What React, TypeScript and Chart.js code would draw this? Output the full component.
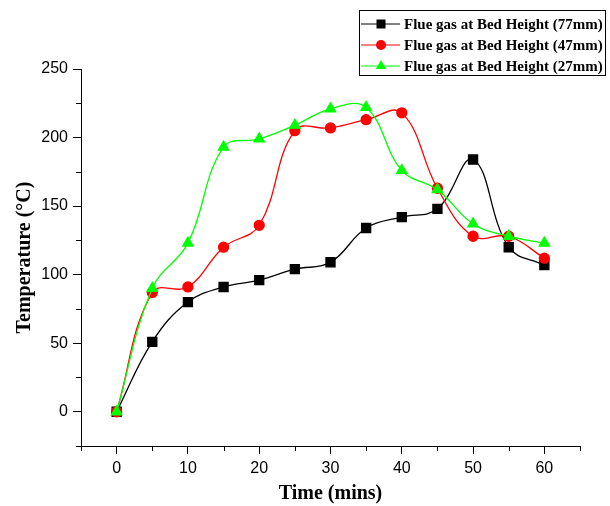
import React, { useEffect, useRef } from "react";
import { Chart, registerables } from "chart.js";

Chart.register(...registerables);

const times = [0, 5, 10, 15, 20, 25, 30, 35, 40, 45, 50, 55, 60];
const bed77 = [0, 51, 80, 91, 96, 104, 109, 134, 142, 148, 184, 120, 107];
const bed47 = [0, 87, 91, 120, 136, 205, 207, 213, 218, 163, 128, 128, 112];
const bed27 = [0, 90, 123, 193, 199, 209, 221, 222, 176, 162, 137, 128, 123];
const seriesLabels = [
  "Flue gas at Bed Height (77mm)",
  "Flue gas at Bed Height (47mm)",
  "Flue gas at Bed Height (27mm)",
];
const xTitle = "Time (mins)";
const yTitle = "Temperature (°C)";

const SERIF = '"Liberation Serif", "Times New Roman", serif';
const SANS = '"Liberation Sans", Arial, sans-serif';

const toPoints = (ys: number[]) => times.map((t, i) => ({ x: t, y: ys[i] }));

const minorTicks = {
  id: "minorTicks",
  afterDraw(chart: any) {
    const ctx = chart.ctx;
    const xs = chart.scales.x;
    const ys = chart.scales.y;
    ctx.save();
    ctx.strokeStyle = "#000";
    ctx.lineWidth = 1;
    ys.ticks.forEach((t: any) => {
      if (t.value % 50 !== 0) {
        const py = Math.round(ys.getPixelForValue(t.value)) + 0.5;
        ctx.beginPath();
        ctx.moveTo(ys.right - 5, py);
        ctx.lineTo(ys.right, py);
        ctx.stroke();
      }
    });
    xs.ticks.forEach((t: any) => {
      if (t.value % 10 !== 0) {
        const px = Math.round(xs.getPixelForValue(t.value)) + 0.5;
        ctx.beginPath();
        ctx.moveTo(px, xs.top);
        ctx.lineTo(px, xs.top + 5);
        ctx.stroke();
      }
    });
    ctx.restore();
  },
};

function drawMarker(ctx: CanvasRenderingContext2D, style: string, x: number, y: number, color: string) {
  ctx.fillStyle = color;
  ctx.beginPath();
  if (style === "rect") {
    ctx.rect(x - 4.5, y - 4.5, 9, 9);
  } else if (style === "circle") {
    ctx.arc(x, y, 5, 0, Math.PI * 2);
  } else {
    const r = 6;
    ctx.moveTo(x, y - r);
    ctx.lineTo(x + r * Math.sin((2 * Math.PI) / 3), y - r * Math.cos((2 * Math.PI) / 3));
    ctx.lineTo(x + r * Math.sin((4 * Math.PI) / 3), y - r * Math.cos((4 * Math.PI) / 3));
    ctx.closePath();
  }
  ctx.fill();
}

const boxLegend = {
  id: "boxLegend",
  afterDraw(chart: any) {
    const ctx = chart.ctx;
    ctx.save();
    ctx.strokeStyle = "#000";
    ctx.lineWidth = 1;
    ctx.strokeRect(359.5, 10.5, 246, 65);
    const rows = [24, 45, 66];
    chart.data.datasets.forEach((ds: any, i: number) => {
      const y = rows[i];
      ctx.strokeStyle = ds.borderColor;
      ctx.lineWidth = 1;
      ctx.beginPath();
      ctx.moveTo(361, y);
      ctx.lineTo(400, y);
      ctx.stroke();
      drawMarker(ctx, ds.pointStyle, 381, y, ds.backgroundColor);
      ctx.fillStyle = "#000";
      ctx.font = `bold 15px ${SERIF}`;
      ctx.textBaseline = "middle";
      ctx.textAlign = "left";
      ctx.fillText(ds.label, 404, y + 1);
    });
    ctx.restore();
  },
};

export default function App() {
  const ref = useRef<HTMLCanvasElement | null>(null);

  useEffect(() => {
    if (!ref.current) return;
    const chart = new Chart(ref.current, {
      type: "line",
      data: {
        datasets: [
          {
            label: seriesLabels[0],
            data: toPoints(bed77),
            borderColor: "#000000",
            backgroundColor: "#000000",
            pointStyle: "rect",
            pointRadius: 6.4,
            borderWidth: 1.3,
            tension: 0.4,
            order: 2,
          },
          {
            label: seriesLabels[1],
            data: toPoints(bed47),
            borderColor: "#ff0000",
            backgroundColor: "#ff0000",
            pointStyle: "circle",
            pointRadius: 5,
            borderWidth: 1.3,
            tension: 0.4,
            order: 1,
          },
          {
            label: seriesLabels[2],
            data: toPoints(bed27),
            borderColor: "#00ff00",
            backgroundColor: "#00ff00",
            pointStyle: "triangle",
            pointRadius: 6,
            borderWidth: 1.3,
            tension: 0.4,
            order: 0,
          },
        ] as any,
      },
      options: {
        animation: false,
        responsive: false,
        devicePixelRatio: 1,
        layout: { padding: { left: 0, right: 30, top: 69, bottom: 0 } },
        plugins: { legend: { display: false }, tooltip: { enabled: false } },
        elements: { point: { borderWidth: 0 } },
        scales: {
          x: {
            type: "linear",
            min: -5,
            max: 65,
            afterFit: (s: any) => {
              s.height = 60;
            },
            ticks: {
              stepSize: 5,
              autoSkip: false,
              maxRotation: 0,
              padding: 5,
              color: "#000",
              font: { family: SANS, size: 16 },
              callback: (v: any) => (Number(v) % 10 === 0 && Number(v) >= 0 && Number(v) <= 60 ? String(v) : ""),
            },
            grid: {
              drawOnChartArea: false,
              drawTicks: true,
              tickLength: 8,
              tickColor: (c: any) => (c.tick && c.tick.value % 10 === 0 ? "#000" : "rgba(0,0,0,0)"),
            },
            border: { display: true, color: "#000", width: 1 },
            title: {
              display: true,
              text: xTitle,
              color: "#000",
              font: { family: SERIF, size: 20, weight: "bold" },
              padding: { top: 0, bottom: 0 },
            },
          },
          y: {
            type: "linear",
            min: -25,
            max: 250,
            afterFit: (s: any) => {
              s.width = 81;
            },
            ticks: {
              stepSize: 25,
              autoSkip: false,
              padding: 5,
              color: "#000",
              font: { family: SANS, size: 16 },
              callback: (v: any) => (Number(v) % 50 === 0 && Number(v) >= 0 ? String(v) : ""),
            },
            grid: {
              drawOnChartArea: false,
              drawTicks: true,
              tickLength: 8,
              tickColor: (c: any) => (c.tick && c.tick.value % 50 === 0 ? "#000" : "rgba(0,0,0,0)"),
            },
            border: { display: true, color: "#000", width: 1 },
            title: {
              display: true,
              text: yTitle,
              color: "#000",
              font: { family: SERIF, size: 20, weight: "bold" },
              padding: { top: 13, bottom: 0 },
            },
          },
        },
      } as any,
      plugins: [minorTicks, boxLegend],
    });
    return () => chart.destroy();
  }, []);

  return (
    <div style={{ position: "fixed", left: 0, top: 0, width: 610, height: 506, background: "#fff" }}>
      <canvas ref={ref} width={610} height={506} style={{ display: "block" }} />
    </div>
  );
}
